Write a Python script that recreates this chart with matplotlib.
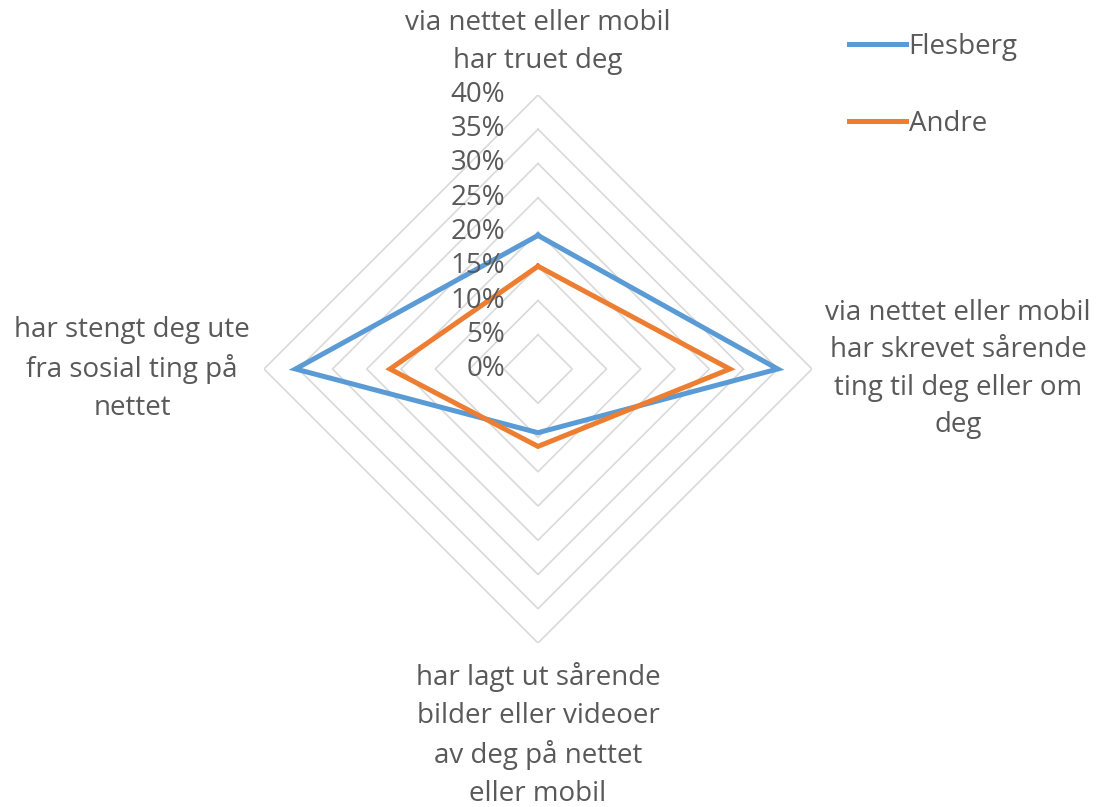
import numpy as np
import matplotlib
matplotlib.use("Agg")
import matplotlib.pyplot as plt

# categories, clockwise from top
categories = [
    "via nettet eller mobil\nhar truet deg",
    "via nettet eller mobil\nhar skrevet sårende\nting til deg eller om\ndeg",
    "har lagt ut sårende\nbilder eller videoer\nav deg på nettet\neller mobil",
    "har stengt deg ute\nfra sosial ting på\nnettet",
]
flesberg = [19.5, 35.0, 9.3, 35.4]
andre = [15.0, 28.0, 11.3, 21.6]
ring_levels = [5, 10, 15, 20, 25, 30, 35, 40]
tick_labels = ["0%", "5%", "10%", "15%", "20%", "25%", "30%", "35%", "40%"]

plt.rcParams['font.family'] = ['Open Sans', 'DejaVu Sans']
text_col = '#595959'
fs = 20

fig = plt.figure(figsize=(10.99, 8.07), dpi=100)
cx, cy = 538 / 1099, 1 - 369 / 807
rw, rh = 274 / 1099, 274 / 807
ax = fig.add_axes([cx - rw, cy - rh, 2 * rw, 2 * rh], projection='polar')
ax.set_theta_offset(np.pi / 2)
ax.set_theta_direction(-1)
ax.set_ylim(0, 40)
ax.grid(False)
ax.spines['polar'].set_visible(False)
ax.set_xticks([])
ax.set_yticks([])
ax.patch.set_alpha(0)

angles = np.linspace(0, 2 * np.pi, len(categories), endpoint=False)
closed = np.concatenate([angles, angles[:1]])

# diamond grid rings
for r in ring_levels:
    ax.plot(closed, [r] * len(closed), color='#d9d9d9', lw=1.2, zorder=1)

ax.plot(closed, flesberg + flesberg[:1], color='#5b9bd5', lw=3.6,
        label='Flesberg', zorder=3, solid_joinstyle='miter')
ax.plot(closed, andre + andre[:1], color='#ed7d31', lw=3.6,
        label='Andre', zorder=3, solid_joinstyle='miter')

# value labels along the top axis
for i, lab in enumerate(tick_labels):
    r = i * 5
    y = cy + rh * r / 40
    fig.text(cx - 33 / 1099, y, lab, ha='right', va='center',
             fontsize=fs, color=text_col)

# category labels
ls = 1.45
fig.text(cx, 1 - 42 / 807, categories[0], ha='center', va='center',
         fontsize=fs, color=text_col, linespacing=ls)
fig.text(958 / 1099, 1 - 369 / 807, categories[1], ha='center', va='center',
         fontsize=fs, color=text_col, linespacing=ls)
fig.text(cx, 1 - 735 / 807, categories[2], ha='center', va='center',
         fontsize=fs, color=text_col, linespacing=ls)
fig.text(132 / 1099, 1 - 369 / 807, categories[3], ha='center', va='center',
         fontsize=fs, color=text_col, linespacing=ls)

leg = fig.legend(loc='upper left', bbox_to_anchor=(824 / 1099, 1 - 8 / 807),
                 frameon=False, fontsize=fs, handlelength=2.05,
                 handletextpad=0.1, labelspacing=1.75)
for t in leg.get_texts():
    t.set_color(text_col)

fig.savefig('out.png', dpi=100)
